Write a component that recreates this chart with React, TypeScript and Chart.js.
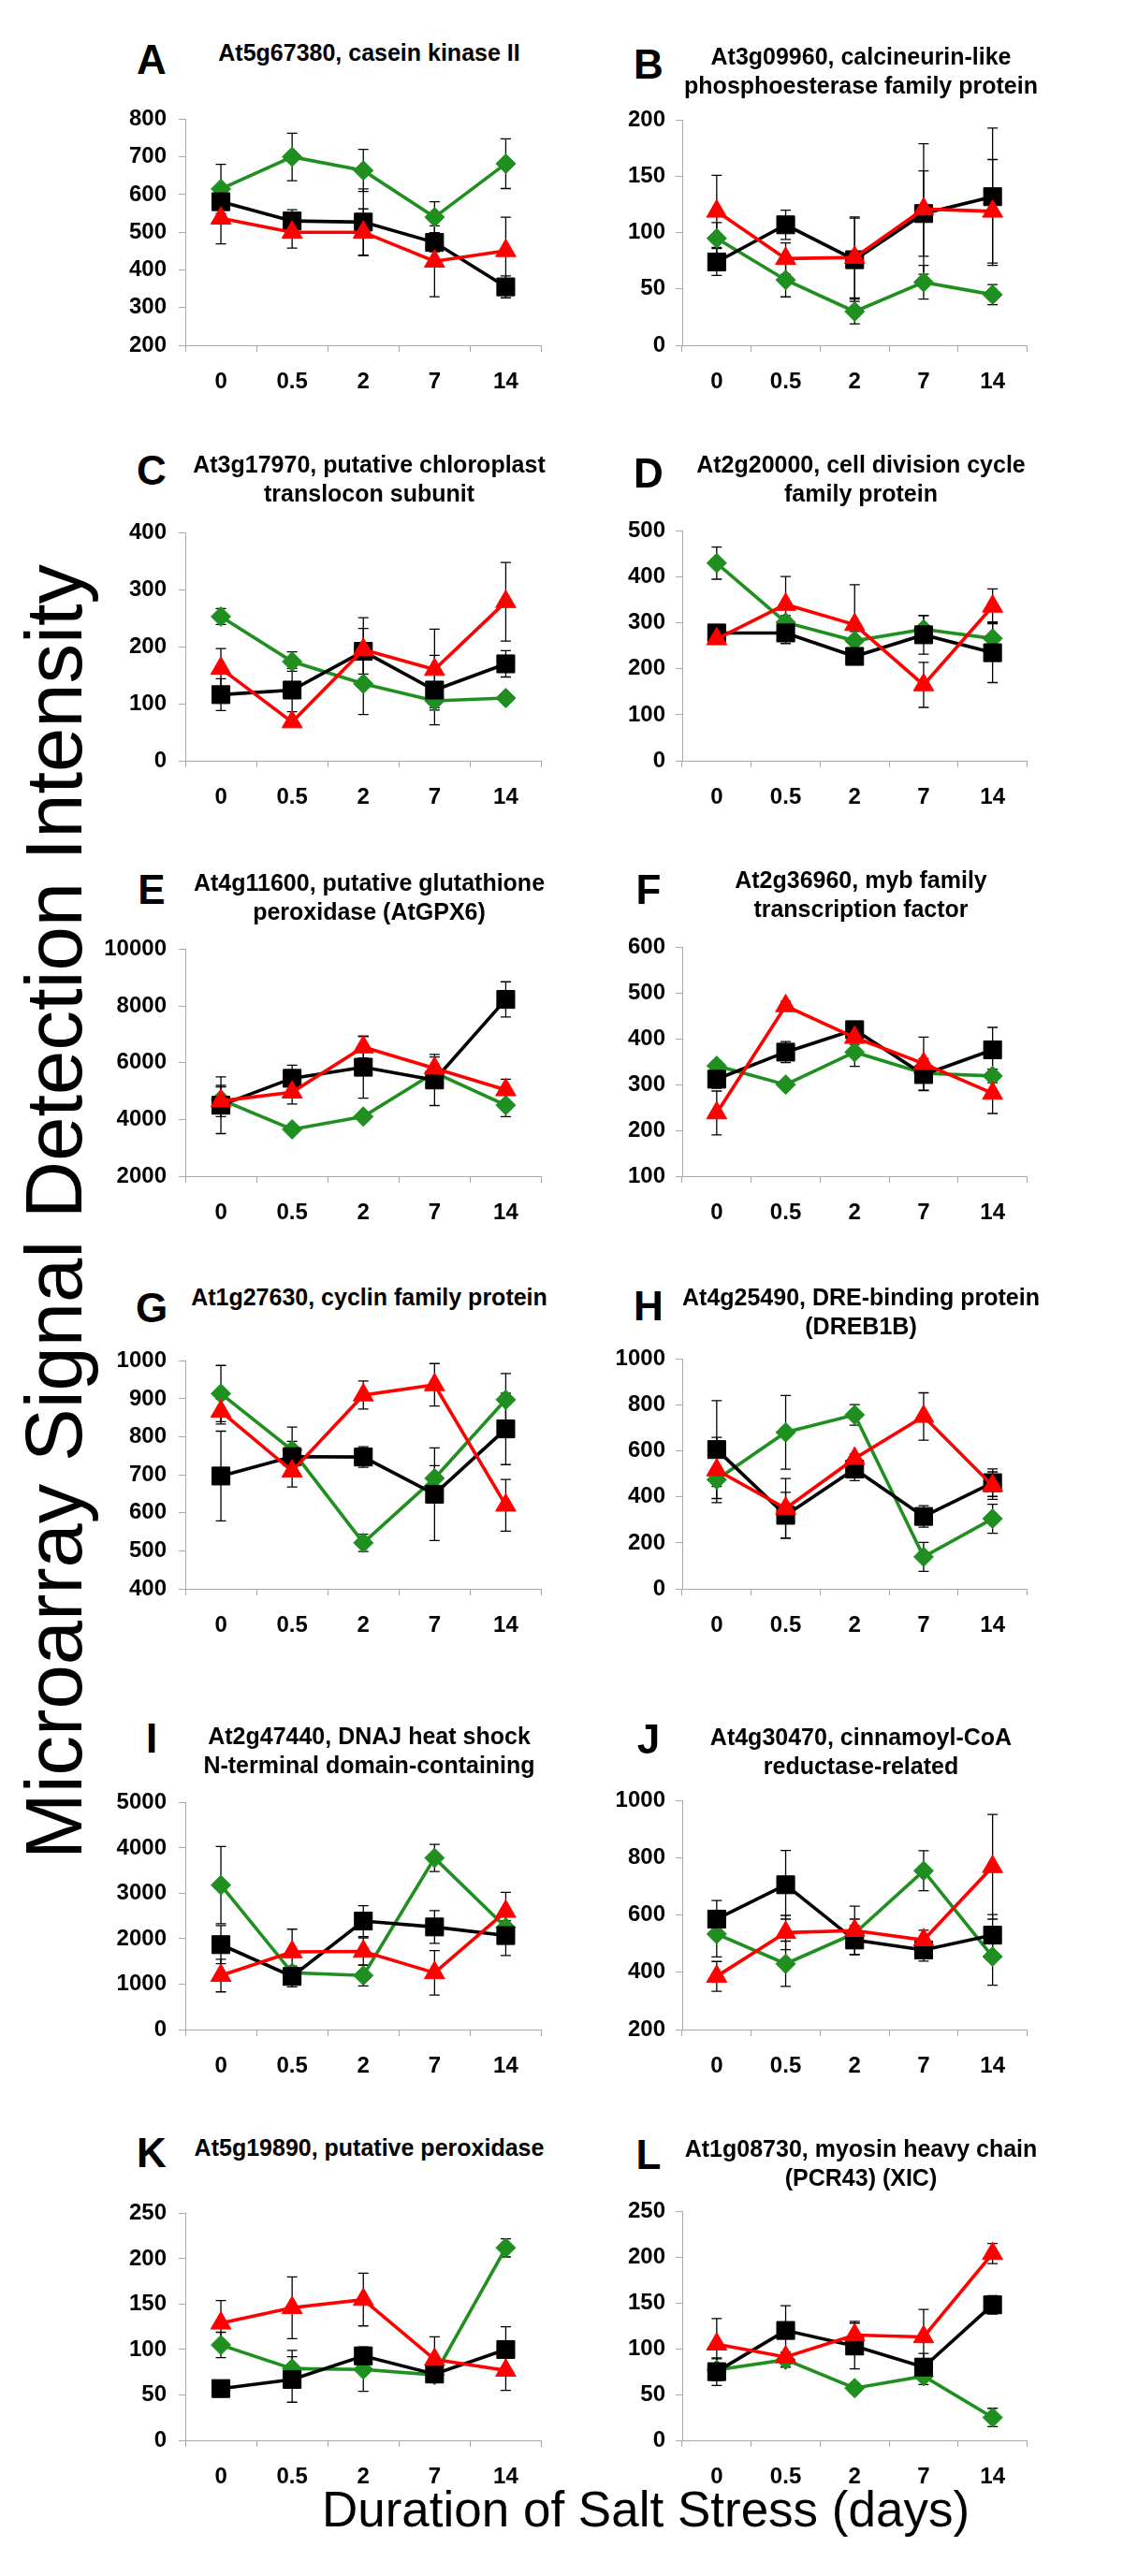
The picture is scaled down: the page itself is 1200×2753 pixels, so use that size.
import React, { useEffect, useRef } from 'react';
import { Chart, registerables } from 'chart.js';

Chart.register(...registerables);

const FONT = '"Liberation Sans", Arial, Helvetica, sans-serif';
const GREEN = '#1f8f1f';
const RED = '#ff0000';
const BLACK = '#000000';

// Shared x categories (days of salt stress)
const days = ['0', '0.5', '2', '7', '14'];

// ---- Panel A ----
const aYAxis = [200, 800, 100];
const aGreen = [615, 700, 664, 540, 682];
const aGreenErr = [65, 63, 56, 41, 66];
const aBlack = [581, 530, 527, 473, 355];
const aBlackErr = [20, 30, 88, 25, 29];
const aRed = [537, 500, 500, 423, 451];
const aRedErr = [68, 42, 62, 94, 89];

// ---- Panel B ----
const bYAxis = [0, 200, 50];
const bGreen = [95, 58, 30, 56, 45];
const bGreenErr = [14, 15, 11, 15, 9];
const bBlack = [74, 107, 76, 117, 132];
const bBlackErr = [12, 13, 37, 38, 61];
const bRed = [119, 77, 78, 121, 119];
const bRedErr = [32, 14, 36, 58, 46];

// ---- Panel C ----
const cYAxis = [0, 400, 100];
const cGreen = [253, 174, 135, 105, 110];
const cGreenErr = [14, 17, 54, 12, 5];
const cBlack = [116, 124, 192, 124, 170];
const cBlackErr = [28, 38, 40, 61, 23];
const cRed = [162, 68, 195, 160, 279];
const cRedErr = [35, 8, 56, 71, 69];

// ---- Panel D ----
const dYAxis = [0, 500, 100];
const dGreen = [430, 301, 261, 286, 266];
const dGreenErr = [35, 15, 20, 30, 36];
const dBlack = [278, 278, 227, 274, 235];
const dBlackErr = [10, 23, 10, 42, 65];
const dRed = [265, 340, 296, 165, 336];
const dRedErr = [10, 61, 87, 49, 38];

// ---- Panel E ----
const eYAxis = [2000, 10000, 2000];
const eGreen = [4700, 3650, 4100, 5650, 4500];
const eGreenErr = [450, 100, 100, 250, 400];
const eBlack = [4500, 5450, 5840, 5390, 8230];
const eBlackErr = [1000, 460, 1090, 900, 620];
const eRed = [4650, 4960, 6550, 5800, 5040];
const eRedErr = [550, 420, 380, 400, 380];

// ---- Panel F ----
const fYAxis = [100, 600, 100];
const fGreen = [341, 300, 371, 325, 319];
const fGreenErr = [10, 8, 31, 20, 15];
const fBlack = [312, 371, 420, 322, 376];
const fBlackErr = [20, 23, 15, 35, 49];
const fRed = [238, 472, 403, 346, 281];
const fRedErr = [48, 10, 15, 58, 44];

// ---- Panel G ----
const gYAxis = [400, 1000, 100];
const gGreen = [914, 765, 521, 691, 898];
const gGreenErr = [74, 61, 23, 33, 69];
const gBlack = [697, 748, 747, 649, 821];
const gBlackErr = [118, 40, 27, 122, 94];
const gRed = [867, 710, 910, 937, 620];
const gRedErr = [33, 42, 37, 56, 68];

// ---- Panel H ----
const hYAxis = [0, 1000, 200];
const hGreen = [475, 681, 757, 139, 305];
const hGreenErr = [30, 160, 45, 63, 63];
const hBlack = [606, 320, 521, 315, 462];
const hBlackErr = [213, 100, 50, 47, 60];
const hRed = [517, 350, 567, 750, 449];
const hRedErr = [142, 130, 20, 103, 60];

// ---- Panel I ----
const iYAxis = [0, 5000, 1000];
const iGreen = [3180, 1250, 1190, 3780, 2250];
const iGreenErr = [850, 100, 230, 300, 150];
const iBlack = [1870, 1170, 2390, 2260, 2070];
const iBlackErr = [420, 230, 340, 360, 440];
const iRed = [1190, 1710, 1720, 1250, 2600];
const iRedErr = [360, 500, 300, 490, 420];

// ---- Panel J ----
const jYAxis = [200, 1000, 200];
const jGreen = [534, 430, 536, 755, 455];
const jGreenErr = [80, 79, 50, 70, 100];
const jBlack = [586, 706, 513, 478, 530];
const jBlackErr = [65, 120, 50, 39, 72];
const jRed = [386, 539, 546, 513, 769];
const jRedErr = [52, 60, 85, 34, 183];

// ---- Panel K ----
const kYAxis = [0, 250, 50];
const kGreen = [105, 79, 78, 72, 212];
const kGreenErr = [14, 20, 24, 6, 10];
const kBlack = [57, 67, 93, 73, 100];
const kBlackErr = [6, 25, 10, 5, 25];
const kRed = [129, 146, 155, 89, 77];
const kRedErr = [25, 34, 29, 25, 22];

// ---- Panel L ----
const lYAxis = [0, 250, 50];
const lGreen = [77, 88, 57, 70, 25];
const lGreenErr = [12, 8, 5, 9, 10];
const lBlack = [75, 120, 103, 80, 148];
const lBlackErr = [15, 27, 25, 15, 10];
const lRed = [105, 91, 115, 113, 204];
const lRedErr = [28, 5, 15, 30, 11];

const panelData = [
  { letter: 'A', title: ['At5g67380, casein kinase II'], y: aYAxis, g: aGreen, ge: aGreenErr, k: aBlack, ke: aBlackErr, r: aRed, re: aRedErr },
  { letter: 'B', title: ['At3g09960, calcineurin-like', 'phosphoesterase family protein'], y: bYAxis, g: bGreen, ge: bGreenErr, k: bBlack, ke: bBlackErr, r: bRed, re: bRedErr },
  { letter: 'C', title: ['At3g17970, putative chloroplast', 'translocon subunit'], y: cYAxis, g: cGreen, ge: cGreenErr, k: cBlack, ke: cBlackErr, r: cRed, re: cRedErr },
  { letter: 'D', title: ['At2g20000, cell division cycle', 'family protein'], y: dYAxis, g: dGreen, ge: dGreenErr, k: dBlack, ke: dBlackErr, r: dRed, re: dRedErr },
  { letter: 'E', title: ['At4g11600, putative glutathione', 'peroxidase (AtGPX6)'], y: eYAxis, g: eGreen, ge: eGreenErr, k: eBlack, ke: eBlackErr, r: eRed, re: eRedErr },
  { letter: 'F', title: ['At2g36960, myb family', 'transcription factor'], y: fYAxis, g: fGreen, ge: fGreenErr, k: fBlack, ke: fBlackErr, r: fRed, re: fRedErr },
  { letter: 'G', title: ['At1g27630, cyclin family protein'], y: gYAxis, g: gGreen, ge: gGreenErr, k: gBlack, ke: gBlackErr, r: gRed, re: gRedErr },
  { letter: 'H', title: ['At4g25490, DRE-binding protein', '(DREB1B)'], y: hYAxis, g: hGreen, ge: hGreenErr, k: hBlack, ke: hBlackErr, r: hRed, re: hRedErr },
  { letter: 'I', title: ['At2g47440, DNAJ heat shock', 'N-terminal domain-containing'], y: iYAxis, g: iGreen, ge: iGreenErr, k: iBlack, ke: iBlackErr, r: iRed, re: iRedErr },
  { letter: 'J', title: ['At4g30470, cinnamoyl-CoA', 'reductase-related'], y: jYAxis, g: jGreen, ge: jGreenErr, k: jBlack, ke: jBlackErr, r: jRed, re: jRedErr },
  { letter: 'K', title: ['At5g19890, putative peroxidase'], y: kYAxis, g: kGreen, ge: kGreenErr, k: kBlack, ke: kBlackErr, r: kRed, re: kRedErr },
  { letter: 'L', title: ['At1g08730, myosin heavy chain', '(PCR43) (XIC)'], y: lYAxis, g: lGreen, ge: lGreenErr, k: lBlack, ke: lBlackErr, r: lRed, re: lRedErr },
];

// ---- Layout (positions only) ----
const COLS = [
  { plotLeft: 198, plotW: 393, titleCx: 394.5, letterCx: 162 },
  { plotLeft: 729, plotW: 381, titleCx: 920, letterCx: 693 },
];
const LAYOUT = [
  { top: 116, bottom: 369, titleCap: 48, letterCap: 48 },
  { top: 119, bottom: 369, titleCap: 52, letterCap: 53 },
  { top: 558, bottom: 813, titleCap: 488, letterCap: 487 },
  { top: 558, bottom: 813, titleCap: 488, letterCap: 490 },
  { top: 1003, bottom: 1257, titleCap: 935, letterCap: 935 },
  { top: 1003, bottom: 1257, titleCap: 932, letterCap: 935 },
  { top: 1443, bottom: 1698, titleCap: 1378, letterCap: 1382 },
  { top: 1443, bottom: 1698, titleCap: 1378, letterCap: 1380 },
  { top: 1915, bottom: 2169, titleCap: 1847, letterCap: 1842 },
  { top: 1915, bottom: 2169, titleCap: 1848, letterCap: 1843 },
  { top: 2354, bottom: 2608, titleCap: 2287, letterCap: 2285 },
  { top: 2354, bottom: 2608, titleCap: 2288, letterCap: 2287 },
];

const Y_AXIS_W = 90;
const X_AXIS_H = 60;
const PAD_TOP = 16;
const PAD_RIGHT = 2;
const AXIS_GRAY = '#a8a8a8';

const errorBarPlugin = {
  id: 'errorBars',
  beforeDatasetsDraw(chart: any) {
    const ctx = chart.ctx;
    const yScale = chart.scales.y;
    chart.data.datasets.forEach((ds: any, i: number) => {
      const meta = chart.getDatasetMeta(i);
      const errs: number[] = ds.errors || [];
      ctx.save();
      ctx.strokeStyle = '#000';
      ctx.lineWidth = 1.3;
      meta.data.forEach((pt: any, j: number) => {
        const v = ds.data[j];
        const e = errs[j] || 0;
        const x = pt.x;
        const yTop = yScale.getPixelForValue(v + e);
        const yBot = yScale.getPixelForValue(v - e);
        ctx.beginPath();
        ctx.moveTo(x, yTop);
        ctx.lineTo(x, yBot);
        ctx.moveTo(x - 5.5, yTop);
        ctx.lineTo(x + 5.5, yTop);
        ctx.moveTo(x - 5.5, yBot);
        ctx.lineTo(x + 5.5, yBot);
        ctx.stroke();
      });
      ctx.restore();
    });
  },
};

function series(label: string, data: number[], errors: number[], color: string, style: string, radius: number) {
  return {
    label,
    data,
    errors,
    borderColor: color,
    backgroundColor: color,
    pointBackgroundColor: color,
    pointBorderColor: color,
    pointStyle: style,
    pointRadius: radius,
    pointHoverRadius: radius,
    pointBorderWidth: 1,
    borderWidth: 3.6,
    tension: 0,
    fill: false,
    clip: false,
  };
}

function Panel({ idx }: { idx: number }) {
  const ref = useRef<HTMLCanvasElement>(null);
  const d = panelData[idx];
  const col = COLS[idx % 2];
  const lay = LAYOUT[idx];
  const plotH = lay.bottom - lay.top;
  const cw = Y_AXIS_W + col.plotW + PAD_RIGHT;
  const ch = PAD_TOP + plotH + X_AXIS_H;
  const cl = col.plotLeft - Y_AXIS_W;
  const ct = lay.top - PAD_TOP;

  useEffect(() => {
    if (!ref.current) return;
    const tickFont = { family: FONT, size: 24, weight: 'bold' as const };
    const chart = new Chart(ref.current, {
      type: 'line',
      data: {
        labels: days,
        datasets: [
          series('red', d.r, d.re, RED, 'triangle', 12.5),
          series('black', d.k, d.ke, BLACK, 'rect', 13.5),
          series('green', d.g, d.ge, GREEN, 'rectRot', 10.5),
        ] as any,
      },
      options: {
        animation: false,
        responsive: false,
        maintainAspectRatio: false,
        devicePixelRatio: 1,
        events: [],
        layout: { padding: { top: PAD_TOP, right: PAD_RIGHT, left: 0, bottom: 0 } },
        plugins: {
          legend: { display: false },
          tooltip: { enabled: false },
          title: { display: false },
        },
        scales: {
          x: {
            type: 'category',
            offset: true,
            grid: {
              offset: true,
              drawOnChartArea: false,
              drawTicks: true,
              tickLength: 7,
              color: AXIS_GRAY,
              lineWidth: 1,
            },
            border: { display: true, color: AXIS_GRAY, width: 1 },
            ticks: {
              color: '#000',
              font: tickFont,
              padding: 18,
              maxRotation: 0,
              autoSkip: false,
            },
            afterFit: (s: any) => {
              s.height = X_AXIS_H;
            },
          },
          y: {
            type: 'linear',
            min: d.y[0],
            max: d.y[1],
            grid: {
              drawOnChartArea: false,
              drawTicks: true,
              tickLength: 7,
              color: AXIS_GRAY,
              lineWidth: 1,
            },
            border: { display: true, color: AXIS_GRAY, width: 1 },
            ticks: {
              stepSize: d.y[2],
              color: '#000',
              font: tickFont,
              padding: idx % 2 === 0 ? 13 : 11,
              callback: (v: any) => String(v),
            },
            afterFit: (s: any) => {
              s.width = Y_AXIS_W;
            },
          },
        },
      } as any,
      plugins: [errorBarPlugin],
    });
    return () => chart.destroy();
  }, []);

  const titleStyle: React.CSSProperties = {
    position: 'absolute',
    left: col.titleCx - 260,
    width: 520,
    top: lay.titleCap - 6.9,
    textAlign: 'center',
    fontFamily: FONT,
    fontWeight: 'bold',
    fontSize: 25,
    lineHeight: '31px',
    color: '#000',
    whiteSpace: 'nowrap',
  };
  const letterStyle: React.CSSProperties = {
    position: 'absolute',
    left: col.letterCx - 40,
    width: 80,
    top: lay.letterCap - 8.7,
    textAlign: 'center',
    fontFamily: FONT,
    fontWeight: 'bold',
    fontSize: 44,
    lineHeight: '50px',
    color: '#000',
  };

  return (
    <>
      <canvas
        ref={ref}
        width={cw}
        height={ch}
        style={{ position: 'absolute', left: cl, top: ct, width: cw, height: ch }}
      />
      <div style={letterStyle}>{d.letter}</div>
      <div style={titleStyle}>
        {d.title.map((t, i) => (
          <div key={i}>{t}</div>
        ))}
      </div>
    </>
  );
}

export default function App() {
  return (
    <div
      style={{
        position: 'absolute',
        left: 0,
        top: 0,
        width: 1200,
        height: 2753,
        background: '#ffffff',
        overflow: 'hidden',
        fontFamily: FONT,
      }}
    >
      {panelData.map((_, i) => (
        <Panel key={i} idx={i} />
      ))}
      <div
        style={{
          position: 'absolute',
          left: 58 - 750,
          top: 1295 - 50,
          width: 1500,
          height: 100,
          lineHeight: '100px',
          fontSize: 85,
          fontFamily: FONT,
          textAlign: 'center',
          whiteSpace: 'nowrap',
          transform: 'rotate(-90deg)',
          transformOrigin: '50% 50%',
          color: '#000',
        }}
      >
        Microarray Signal Detection Intensity
      </div>
      <div
        style={{
          position: 'absolute',
          left: 690 - 500,
          top: 2662 - 10.4,
          width: 1000,
          fontSize: 53,
          lineHeight: '60px',
          fontFamily: FONT,
          textAlign: 'center',
          whiteSpace: 'nowrap',
          color: '#000',
        }}
      >
        Duration of Salt Stress (days)
      </div>
    </div>
  );
}
